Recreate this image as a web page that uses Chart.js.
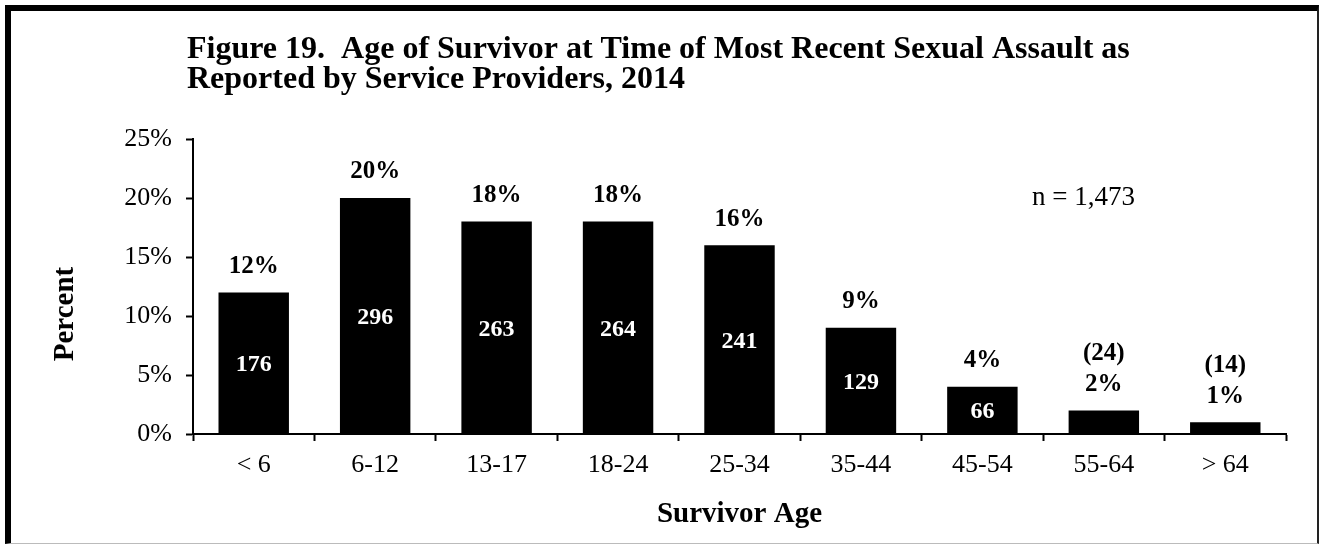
<!DOCTYPE html>
<html>
<head>
<meta charset="utf-8">
<script src="https://cdn.jsdelivr.net/npm/chart.js@4"></script>
<style>
  body { margin: 0; background: #fff; }
  #wrap { position: relative; width: 1320px; height: 544px; }
  #frame {
    position: absolute; left: 5px; top: 5px; width: 1314px; height: 539px;
    box-sizing: border-box; pointer-events: none;
    border-left: 6px solid #000; border-top: 6px solid #000;
    border-right: 2px solid #222; border-bottom: 1px solid #bbb;
  }
</style>
</head>
<body>
<div id="wrap">
  <canvas id="ageChart" width="1320" height="544"></canvas>
  <div id="frame"></div>
</div>
<script>
const ageGroups = ['< 6', '6-12', '13-17', '18-24', '25-34', '35-44', '45-54', '55-64', '> 64'];
const percents = [12, 20, 18, 18, 16, 9, 4, 2, 1];
const counts = [176, 296, 263, 264, 241, 129, 66, 24, 14];
const yTicks = [0, 5, 10, 15, 20, 25];
const titleLines = [
    'Figure 19.  Age of Survivor at Time of Most Recent Sexual Assault as',
    'Reported by Service Providers, 2014'
];
const sampleNote = 'n = 1,473';

const serif = '"Liberation Serif", "Times New Roman", serif';

// title, y axis title, note and bar labels
const labelPlugin = {
    id: 'labels',
    afterDraw(chart) {
        const ctx = chart.ctx;
        ctx.save();
        ctx.fillStyle = '#000';

        ctx.textBaseline = 'alphabetic';
        ctx.font = 'bold 32px ' + serif;
        ctx.textAlign = 'left';
        ctx.fillText(titleLines[0], 187, 58);
        ctx.fillText(titleLines[1], 187, 88);

        ctx.textBaseline = 'middle';
        ctx.font = '27px ' + serif;
        ctx.fillText(sampleNote, 1032, 198);

        ctx.save();
        ctx.translate(66, 314);
        ctx.rotate(-Math.PI / 2);
        ctx.textAlign = 'center';
        ctx.font = 'bold 29px ' + serif;
        ctx.fillText('Percent', 0, 0);
        ctx.restore();

        ctx.textAlign = 'center';
        const meta = chart.getDatasetMeta(0);
        meta.data.forEach((bar, i) => {
            const h = bar.base - bar.y;
            ctx.fillStyle = '#000';
            ctx.font = 'bold 25px ' + serif;
            ctx.fillText(percents[i] + '%', bar.x, bar.y - 26);
            if (h > 40) {
                ctx.fillStyle = '#fff';
                ctx.font = 'bold 24px ' + serif;
                ctx.fillText(counts[i], bar.x, (bar.y + bar.base) / 2 + 2);
            } else {
                ctx.fillText('(' + counts[i] + ')', bar.x, bar.y - 57);
            }
        });
        ctx.restore();
    }
};

new Chart(document.getElementById('ageChart'), {
    type: 'bar',
    data: {
        labels: ageGroups,
        datasets: [{
            data: percents,
            backgroundColor: '#000',
            borderWidth: 0,
            barPercentage: 0.58,
            categoryPercentage: 1
        }]
    },
    options: {
        responsive: false,
        animation: false,
        layout: { padding: { left: 0, right: 34, top: 139, bottom: 0 } },
        plugins: {
            legend: { display: false },
            tooltip: { enabled: false }
        },
        scales: {
            x: {
                offset: true,
                grid: { display: true, drawOnChartArea: false, offset: true, tickLength: 7, color: '#000', tickWidth: 2 },
                border: { color: '#000', width: 2 },
                ticks: { color: '#000', font: { family: serif, size: 26 }, padding: 9, maxRotation: 0 },
                title: { display: true, text: 'Survivor Age', color: '#000', font: { family: serif, size: 29, weight: 'bold' }, padding: { top: 0, bottom: 12 } },
                afterFit(scale) { scale.height = 110; }
            },
            y: {
                min: 0,
                max: 25,
                afterBuildTicks(scale) { scale.ticks = yTicks.map(v => ({ value: v })); },
                grid: { display: true, drawOnChartArea: false, tickLength: 7, color: '#000', tickWidth: 2 },
                border: { color: '#000', width: 2 },
                ticks: { color: '#000', font: { family: serif, size: 26 }, padding: 14, callback: v => v + '%' },
                afterFit(scale) { scale.width = 193; }
            }
        }
    },
    plugins: [labelPlugin]
});
</script>
</body>
</html>
